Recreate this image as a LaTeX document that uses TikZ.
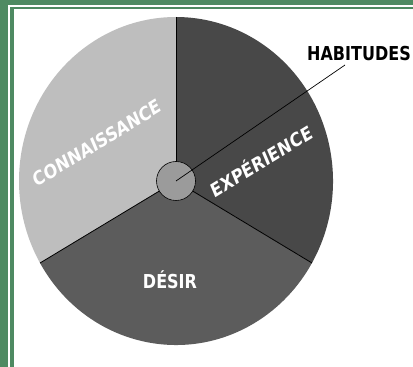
\documentclass[tikz,border=0pt]{standalone}
\usepackage{fontspec}
\newfontfamily\lblfont{DejaVu Sans}
\definecolor{framegreen}{RGB}{78,138,98}
\definecolor{conngray}{RGB}{190,190,190}
\definecolor{expgray}{RGB}{72,72,72}
\definecolor{desgray}{RGB}{92,92,92}
\definecolor{hubgray}{RGB}{155,155,155}
\begin{document}
\begin{tikzpicture}[x=1pt,y=1pt,
    label/.style={text=white,font=\lblfont\bfseries\fontsize{16}{16}\selectfont,inner sep=0pt,yscale=1.2},
    divider/.style={black,line width=0.8pt}]
        \useasboundingbox (0,0) rectangle (413,367);
        %% Frame
        \fill[framegreen] (0,0) rectangle (413,367);
        \fill[white] (8,-1) rectangle (414,362);
        \fill[framegreen] (10,-1) rectangle (414,360);
        \fill[white] (13.5,-1) rectangle (414,358);
        %% Wheel
        \coordinate (ctr) at (176,186);
        \fill[conngray] (ctr) -- +(90:157 and 164) arc[start angle=90,end angle=210,x radius=157,y radius=164] -- cycle;
        \fill[desgray] (ctr) -- +(210:157 and 164) arc[start angle=210,end angle=330,x radius=157,y radius=164] -- cycle;
        \fill[expgray] (ctr) -- +(-30:157 and 164) arc[start angle=-30,end angle=90,x radius=157,y radius=164] -- cycle;
        \draw[divider] (ctr) -- +(90:157 and 164);
        \draw[divider] (ctr) -- +(210:157 and 164);
        \draw[divider] (ctr) -- +(-30:157 and 164);
        %% Hub
        \node[draw,fill=hubgray,circle,minimum size=39pt,inner sep=0pt,line width=0.6pt] (hub) at (ctr) {};
        %% Labels
        \node[label,rotate=27] (conn) at (97,224) {CONNAISSANCE};
        \node[label,rotate=27] (exp) at (261,207) {EXPÉRIENCE};
        \node[label] (des) at (170,87) {DÉSIR};
        \node[label,text=black] (hab) at (359,313) {HABITUDES};
        %% Leader
        \coordinate (habend) at (345,302);
        \draw[black,line width=0.7pt] (hub.center) -- (habend);
    \end{tikzpicture}
\end{document}
